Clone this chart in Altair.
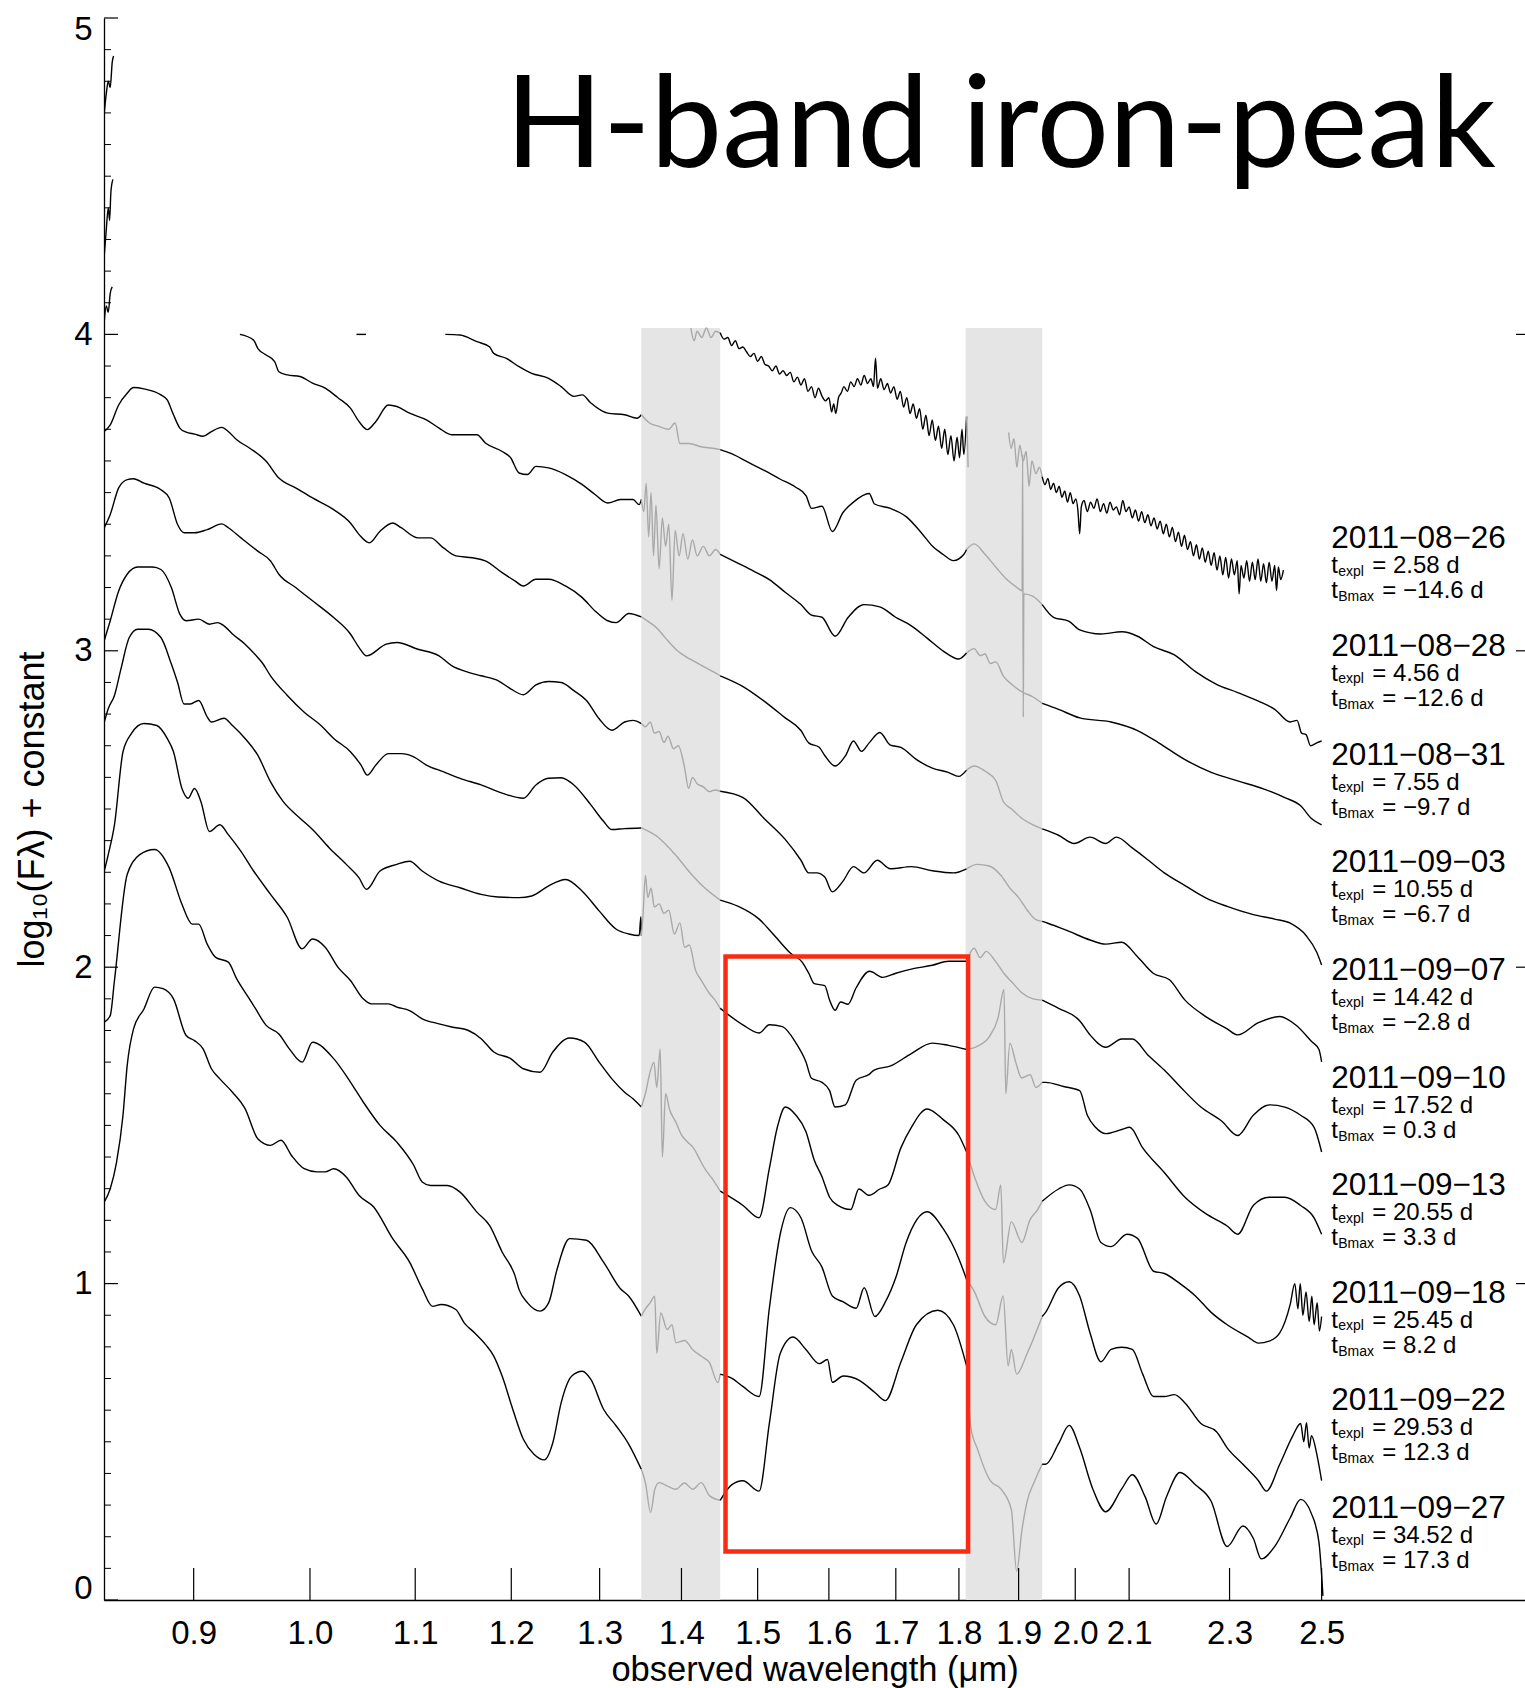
import altair as alt
import pandas as pd

# ---------------- data ----------------
# each spectrum: (wavelength in micron, log10 F + constant); None = gap / clipped
S1 = [
    (0.8300, 4.04), (0.8315, 4.09), (0.8330, 4.07), (0.8345, 4.13), (0.8360, 4.15), None,
    (0.8300, 4.25), (0.8315, 4.33), (0.8330, 4.40), (0.8340, 4.36), (0.8350, 4.45), (0.8365, 4.49), None,
    (0.8300, 4.70), (0.8315, 4.76), (0.8330, 4.80), (0.8345, 4.78), (0.8360, 4.86), (0.8370, 4.88), None,
    (1.412, 4.02), (1.416, 3.98), (1.420, 4.01), (1.426, 3.99), (1.432, 4.02), (1.438, 3.99), (1.444, 4.01),
    (1.450, 4.005), (1.455, 3.985), (1.460, 3.99), (1.465, 3.965), (1.470, 3.98), (1.475, 3.955), (1.480, 3.96),
    (1.485, 3.945), (1.490, 3.93), (1.495, 3.94), (1.500, 3.915), (1.505, 3.93), (1.510, 3.905), (1.515, 3.90),
    (1.520, 3.885), (1.525, 3.90), (1.530, 3.875), (1.535, 3.885), (1.540, 3.87), (1.545, 3.88), (1.550, 3.85),
    (1.555, 3.865), (1.560, 3.84), (1.565, 3.86), (1.570, 3.82), (1.575, 3.835), (1.580, 3.80), (1.585, 3.83),
    (1.590, 3.805), (1.595, 3.79), (1.600, 3.80), (1.604, 3.755), (1.607, 3.78), (1.610, 3.75), (1.614, 3.80),
    (1.618, 3.815), (1.622, 3.835), (1.627, 3.82), (1.632, 3.85), (1.637, 3.835), (1.642, 3.86), (1.647, 3.84),
    (1.652, 3.87), (1.657, 3.845), (1.662, 3.86), (1.666, 3.835), (1.669, 3.925), (1.672, 3.83), (1.677, 3.86),
    (1.682, 3.825), (1.687, 3.845), (1.692, 3.815), (1.697, 3.835), (1.702, 3.795), (1.707, 3.82), (1.712, 3.77),
    (1.717, 3.80), (1.722, 3.75), (1.727, 3.78), (1.732, 3.735), (1.737, 3.765), (1.742, 3.70), (1.747, 3.745),
    (1.752, 3.68), (1.757, 3.73), (1.762, 3.665), (1.767, 3.71), (1.772, 3.64), (1.777, 3.70), (1.782, 3.62),
    (1.787, 3.68), (1.792, 3.60), (1.797, 3.675), (1.801, 3.61), (1.805, 3.70), (1.808, 3.62), (1.8125, 3.74),
    (1.8135, 3.70), (1.815, 3.58), None,
    (1.883, 3.69), (1.887, 3.64), (1.892, 3.67), (1.897, 3.58), (1.902, 3.65), (1.908, 3.60), (1.913, 3.63),
    (1.918, 3.52), (1.923, 3.60), (1.930, 3.56), (1.936, 3.58), (1.941, 3.55),
    (1.946, 3.525), (1.951, 3.545), (1.956, 3.51), (1.961, 3.53), (1.966, 3.50), (1.971, 3.52), (1.976, 3.485),
    (1.981, 3.505), (1.986, 3.47), (1.991, 3.50), (1.996, 3.465), (2.001, 3.48), (2.005, 3.44), (2.008, 3.37),
    (2.011, 3.455), (2.016, 3.475), (2.022, 3.44), (2.028, 3.47), (2.034, 3.45), (2.040, 3.48), (2.046, 3.44),
    (2.052, 3.465), (2.058, 3.435), (2.064, 3.47), (2.070, 3.445), (2.076, 3.455), (2.082, 3.43), (2.088, 3.475),
    (2.094, 3.44), (2.100, 3.455), (2.106, 3.42), (2.112, 3.445), (2.118, 3.41), (2.124, 3.44), (2.130, 3.405),
    (2.136, 3.43), (2.142, 3.395), (2.148, 3.42), (2.154, 3.385), (2.160, 3.41), (2.166, 3.37), (2.172, 3.40),
    (2.178, 3.36), (2.184, 3.39), (2.190, 3.345), (2.196, 3.375), (2.202, 3.33), (2.208, 3.365), (2.214, 3.32),
    (2.220, 3.345), (2.226, 3.30), (2.232, 3.335), (2.238, 3.29), (2.244, 3.325), (2.250, 3.28), (2.256, 3.315),
    (2.262, 3.27), (2.268, 3.31), (2.274, 3.255), (2.280, 3.30), (2.286, 3.24), (2.292, 3.295), (2.298, 3.23),
    (2.304, 3.29), (2.310, 3.24), (2.316, 3.285), (2.320, 3.18), (2.324, 3.27), (2.330, 3.23), (2.336, 3.285),
    (2.342, 3.22), (2.348, 3.28), (2.354, 3.225), (2.360, 3.29), (2.366, 3.22), (2.372, 3.275), (2.378, 3.215),
    (2.384, 3.28), (2.390, 3.22), (2.396, 3.27), (2.400, 3.19), (2.404, 3.265), (2.409, 3.225), (2.415, 3.255),
]

S2 = [
    (1.043, 4.0), (1.052, 4.0), None,
    (1.1304, 4.0), (1.1456, 3.998), (1.1632, 3.977), (1.1766, 3.961), (1.1811, 3.94), (1.1947, 3.924),
    (1.2085, 3.898), (1.2224, 3.877), (1.2413, 3.861), (1.2555, 3.835), (1.2700, 3.804), (1.2797, 3.809),
    (1.2897, 3.783), (1.3095, 3.751), (1.3297, 3.746), (1.3449, 3.735), (1.35, 3.746),
    (1.360, 3.72), (1.371, 3.71), (1.384, 3.70), (1.392, 3.72), (1.398, 3.655), (1.41, 3.655), (1.425, 3.645),
    (1.44, 3.64), (1.45, 3.636),
    (1.465, 3.623), (1.487, 3.596), (1.509, 3.57), (1.5305, 3.543), (1.5526, 3.517), (1.5674, 3.49),
    (1.575, 3.45), (1.590, 3.457), (1.605, 3.377), (1.6206, 3.437), (1.636, 3.47), (1.6595, 3.497),
    (1.6675, 3.464), (1.6916, 3.45), (1.716, 3.424), (1.7406, 3.371), (1.7572, 3.331), (1.7741, 3.305),
    (1.7911, 3.285), (1.8082, 3.305), (1.8125, 3.32),
    (1.825, 3.338), (1.843, 3.305), (1.861, 3.265), (1.88, 3.225), (1.898, 3.199), (1.906, 3.19),
    (1.907, 3.62), (1.908, 2.79), (1.909, 3.18), (1.925, 3.172), (1.941, 3.146),
    (1.961, 3.106), (1.989, 3.093), (2.008, 3.066), (2.047, 3.053), (2.086, 3.06), (2.116, 3.046),
    (2.147, 3.013), (2.188, 2.987), (2.230, 2.934), (2.273, 2.894), (2.317, 2.868), (2.361, 2.841),
    (2.396, 2.815), (2.430, 2.775), (2.445, 2.78), (2.455, 2.74), (2.465, 2.735), (2.475, 2.70),
    (2.489, 2.709), (2.50, 2.715),
]

S3 = [
    (0.9385, 4.0), (0.9502, 3.982), (0.9538, 3.956), (0.9611, 3.935), (0.9685, 3.914), (0.9722, 3.882),
    (0.9797, 3.872), (0.9910, 3.867), (1.0023, 3.846), (1.0139, 3.83), (1.0256, 3.80), (1.0373, 3.767),
    (1.0453, 3.725), (1.0533, 3.699), (1.0615, 3.725), (1.0736, 3.777), (1.0819, 3.772), (1.0944, 3.751),
    (1.1112, 3.73), (1.1240, 3.704), (1.1369, 3.683), (1.150, 3.683), (1.1632, 3.683), (1.1722, 3.657),
    (1.1901, 3.63), (1.1993, 3.61), (1.2085, 3.562), (1.2178, 3.557), (1.2271, 3.583), (1.2413, 3.578),
    (1.2604, 3.557), (1.2797, 3.525), (1.2946, 3.494), (1.3095, 3.467), (1.3247, 3.478), (1.3399, 3.478),
    (1.3474, 3.462), (1.35, 3.478),
    (1.353, 3.44), (1.356, 3.53), (1.359, 3.36), (1.362, 3.50), (1.365, 3.30), (1.368, 3.46), (1.372, 3.26),
    (1.376, 3.42), (1.380, 3.33), (1.384, 3.40), (1.388, 3.16), (1.392, 3.38), (1.397, 3.30), (1.402, 3.37),
    (1.408, 3.29), (1.414, 3.35), (1.420, 3.30), (1.428, 3.33), (1.436, 3.30), (1.444, 3.32), (1.45, 3.305),
    (1.4726, 3.278), (1.4945, 3.252), (1.516, 3.225), (1.5379, 3.185), (1.560, 3.146), (1.575, 3.113),
    (1.590, 3.106), (1.609, 3.046), (1.6283, 3.106), (1.6516, 3.146), (1.6755, 3.139), (1.6997, 3.106),
    (1.7241, 3.079), (1.7489, 3.04), (1.7741, 3.0), (1.7996, 2.974), (1.8125, 2.993),
    (1.825, 3.007), (1.835, 2.985), (1.843, 2.99), (1.852, 2.96), (1.861, 2.965), (1.874, 2.92),
    (1.888, 2.894), (1.906, 2.87), (1.925, 2.854), (1.941, 2.834),
    (1.970, 2.815), (2.008, 2.788), (2.066, 2.775), (2.116, 2.748), (2.157, 2.709), (2.209, 2.656),
    (2.262, 2.616), (2.317, 2.589), (2.373, 2.563), (2.418, 2.536), (2.453, 2.51), (2.477, 2.47), (2.50, 2.45),
]

S4 = [
    (0.830, 3.693), (0.8345, 3.714), (0.8409, 3.777), (0.8474, 3.814), (0.8523, 3.832), (0.8604, 3.828),
    (0.8737, 3.809), (0.8787, 3.793), (0.8837, 3.746), (0.8888, 3.704), (0.8939, 3.691), (0.9007, 3.685),
    (0.9077, 3.678), (0.9146, 3.693), (0.9233, 3.706), (0.9287, 3.693), (0.9358, 3.667), (0.9466, 3.641),
    (0.9611, 3.599), (0.9722, 3.546), (0.9871, 3.515), (1.0023, 3.483), (1.0217, 3.446), (1.0373, 3.404),
    (1.0453, 3.368), (1.0553, 3.341), (1.0655, 3.378), (1.0778, 3.404), (1.0861, 3.389), (1.1027, 3.357),
    (1.1154, 3.357), (1.1282, 3.326), (1.1412, 3.30), (1.1587, 3.294), (1.1722, 3.284), (1.1901, 3.247),
    (1.2039, 3.221), (1.2132, 3.205), (1.2271, 3.226), (1.2413, 3.226), (1.2604, 3.205), (1.2797, 3.168),
    (1.2946, 3.126), (1.3095, 3.095), (1.3197, 3.089), (1.3348, 3.118), (1.35, 3.107),
    (1.36, 3.09), (1.37, 3.07), (1.38, 3.04), (1.395, 3.0), (1.41, 2.975), (1.425, 2.955), (1.44, 2.935),
    (1.45, 2.921),
    (1.4803, 2.887), (1.5088, 2.841), (1.5379, 2.788), (1.560, 2.748), (1.571, 2.709), (1.586, 2.695),
    (1.594, 2.669), (1.609, 2.636), (1.6244, 2.669), (1.636, 2.715), (1.648, 2.682), (1.6595, 2.709),
    (1.6755, 2.742), (1.6916, 2.702), (1.7078, 2.695), (1.7323, 2.656), (1.7572, 2.629), (1.7826, 2.616),
    (1.7996, 2.603), (1.8125, 2.623),
    (1.825, 2.636), (1.843, 2.62), (1.861, 2.59), (1.874, 2.523), (1.888, 2.50), (1.906, 2.47),
    (1.925, 2.45), (1.941, 2.437),
    (1.970, 2.417), (1.998, 2.391), (2.027, 2.411), (2.056, 2.391), (2.076, 2.411), (2.106, 2.377),
    (2.137, 2.338), (2.168, 2.298), (2.209, 2.258), (2.251, 2.219), (2.295, 2.192), (2.350, 2.166),
    (2.396, 2.152), (2.430, 2.139), (2.465, 2.10), (2.489, 2.047), (2.50, 2.007),
]

S5 = [
    (0.830, 3.389), (0.8345, 3.431), (0.8409, 3.515), (0.8474, 3.541), (0.8523, 3.544), (0.8604, 3.53),
    (0.8737, 3.509), (0.8803, 3.483), (0.8870, 3.399), (0.8922, 3.373), (0.9007, 3.373), (0.9111, 3.383),
    (0.9233, 3.401), (0.9287, 3.389), (0.9394, 3.357), (0.9538, 3.315), (0.9649, 3.284), (0.9722, 3.242),
    (0.9871, 3.20), (1.0023, 3.158), (1.0217, 3.105), (1.0373, 3.053), (1.0453, 3.011), (1.0525, 2.984),
    (1.0715, 3.021), (1.0819, 3.026), (1.1027, 3.005), (1.1240, 2.984), (1.1369, 2.953), (1.1543, 2.932),
    (1.1677, 2.921), (1.1856, 2.906), (1.1993, 2.88), (1.2132, 2.861), (1.2271, 2.892), (1.2413, 2.903),
    (1.2555, 2.90), (1.2700, 2.874), (1.2846, 2.843), (1.2994, 2.785), (1.3145, 2.749), (1.3297, 2.775),
    (1.3399, 2.78), (1.35, 2.77),
    (1.355, 2.76), (1.361, 2.775), (1.366, 2.74), (1.372, 2.745), (1.378, 2.71), (1.383, 2.73), (1.390, 2.69),
    (1.396, 2.70), (1.404, 2.63), (1.409, 2.565), (1.414, 2.60), (1.42, 2.58), (1.428, 2.57), (1.436, 2.555),
    (1.443, 2.56), (1.45, 2.556),
    (1.4803, 2.536), (1.5088, 2.47), (1.5379, 2.404), (1.560, 2.338), (1.571, 2.298), (1.5824, 2.298),
    (1.594, 2.285), (1.605, 2.238), (1.6206, 2.272), (1.636, 2.318), (1.6516, 2.298), (1.6715, 2.338),
    (1.6916, 2.311), (1.7241, 2.318), (1.7572, 2.305), (1.7911, 2.298), (1.8125, 2.311),
    (1.83, 2.325), (1.85, 2.32), (1.87, 2.29), (1.885, 2.25), (1.90, 2.22), (1.915, 2.18), (1.93, 2.15),
    (1.941, 2.145),
    (1.951, 2.139), (1.989, 2.113), (2.027, 2.086), (2.056, 2.073), (2.086, 2.079), (2.116, 2.033),
    (2.147, 1.98), (2.1775, 1.961), (2.209, 1.896), (2.251, 1.844), (2.295, 1.805), (2.317, 1.786),
    (2.361, 1.825), (2.407, 1.844), (2.4415, 1.818), (2.477, 1.766), (2.494, 1.74), (2.50, 1.701),
]

S6 = [
    (0.830, 3.032), (0.8345, 3.095), (0.8409, 3.189), (0.8474, 3.242), (0.8555, 3.265), (0.8670, 3.265),
    (0.8737, 3.257), (0.8820, 3.20), (0.8888, 3.116), (0.8939, 3.095), (0.9041, 3.10), (0.9129, 3.084),
    (0.9198, 3.089), (0.9251, 3.079), (0.9322, 3.053), (0.9429, 3.021), (0.9538, 2.979), (0.9575, 2.963),
    (0.9649, 2.921), (0.9797, 2.859), (0.9948, 2.806), (1.0100, 2.764), (1.0217, 2.723), (1.0373, 2.681),
    (1.0473, 2.639), (1.0533, 2.607), (1.0615, 2.639), (1.0736, 2.675), (1.0861, 2.675), (1.0985, 2.665),
    (1.1112, 2.639), (1.1282, 2.618), (1.1456, 2.597), (1.1677, 2.576), (1.1901, 2.55), (1.2132, 2.534),
    (1.2271, 2.576), (1.2413, 2.597), (1.2555, 2.599), (1.2700, 2.576), (1.2897, 2.513), (1.3046, 2.461),
    (1.3145, 2.435), (1.3297, 2.438), (1.35, 2.44),
    (1.371, 2.41), (1.392, 2.356), (1.413, 2.293), (1.43, 2.25), (1.45, 2.212),
    (1.474, 2.192), (1.502, 2.152), (1.523, 2.10), (1.545, 2.045), (1.562, 2.015), (1.571, 1.981),
    (1.579, 1.948), (1.594, 1.942), (1.601, 1.896), (1.609, 1.864), (1.617, 1.89), (1.628, 1.883),
    (1.640, 1.935), (1.660, 1.987), (1.680, 1.968), (1.700, 1.981), (1.724, 1.994), (1.757, 2.006),
    (1.783, 2.019), (1.8125, 2.019),
    (1.825, 2.06), (1.835, 2.03), (1.845, 2.05), (1.86, 2.02), (1.875, 1.98), (1.89, 1.95), (1.905, 1.92),
    (1.925, 1.90), (1.941, 1.896),
    (1.970, 1.87), (2.008, 1.831), (2.027, 1.786), (2.056, 1.747), (2.086, 1.773), (2.106, 1.773),
    (2.137, 1.721), (2.168, 1.675), (2.199, 1.623), (2.241, 1.558), (2.284, 1.513), (2.317, 1.468),
    (2.350, 1.532), (2.384, 1.565), (2.418, 1.558), (2.453, 1.532), (2.483, 1.494), (2.50, 1.416),
]

S7 = [
    (0.830, 2.775), (0.8330, 2.817), (0.8377, 2.859), (0.8426, 2.942), (0.8490, 3.042), (0.8555, 3.068),
    (0.8637, 3.068), (0.8737, 3.042), (0.8820, 2.958), (0.8870, 2.90), (0.8922, 2.832), (0.8973, 2.832),
    (0.9041, 2.843), (0.9111, 2.791), (0.9146, 2.775), (0.9251, 2.787), (0.9322, 2.764), (0.9429, 2.723),
    (0.9538, 2.67), (0.9649, 2.586), (0.9759, 2.524), (0.9910, 2.471), (1.0023, 2.435), (1.0177, 2.377),
    (1.0334, 2.325), (1.0453, 2.283), (1.0525, 2.246), (1.0655, 2.304), (1.0819, 2.325), (1.0944, 2.335),
    (1.1070, 2.304), (1.1240, 2.272), (1.1456, 2.251), (1.1677, 2.23), (1.1856, 2.222), (1.2085, 2.22),
    (1.2224, 2.225), (1.2413, 2.257), (1.2604, 2.277), (1.2797, 2.24), (1.2994, 2.178), (1.3197, 2.12),
    (1.3348, 2.105), (1.3474, 2.10), (1.3495, 2.16), (1.35, 2.10),
    (1.352, 2.16), (1.355, 2.29), (1.358, 2.22), (1.362, 2.25), (1.366, 2.19), (1.372, 2.20), (1.378, 2.17),
    (1.384, 2.18), (1.391, 2.105), (1.398, 2.14), (1.404, 2.063), (1.41, 2.07), (1.418, 1.99), (1.425, 1.96),
    (1.435, 1.92), (1.442, 1.90), (1.45, 1.87),
    (1.480, 1.818), (1.502, 1.792), (1.516, 1.818), (1.534, 1.812), (1.553, 1.76), (1.567, 1.701),
    (1.575, 1.649), (1.590, 1.636), (1.601, 1.61), (1.609, 1.558), (1.624, 1.565), (1.640, 1.643),
    (1.660, 1.662), (1.667, 1.675), (1.692, 1.688), (1.724, 1.727), (1.757, 1.76), (1.783, 1.753),
    (1.8125, 1.74),
    (1.83, 1.75), (1.85, 1.78), (1.865, 1.84), (1.875, 1.93), (1.878, 1.60), (1.885, 1.76), (1.895, 1.70),
    (1.905, 1.65), (1.92, 1.66), (1.93, 1.62), (1.941, 1.636),
    (1.947, 1.636), (1.979, 1.623), (2.008, 1.61), (2.022, 1.532), (2.037, 1.494), (2.056, 1.474),
    (2.086, 1.487), (2.101, 1.494), (2.126, 1.429), (2.168, 1.351), (2.209, 1.273), (2.251, 1.221),
    (2.295, 1.182), (2.317, 1.156), (2.350, 1.247), (2.384, 1.273), (2.418, 1.273), (2.453, 1.247),
    (2.483, 1.208), (2.50, 1.156),
]

S8 = [
    (0.830, 2.304), (0.8330, 2.356), (0.8377, 2.45), (0.8442, 2.681), (0.8506, 2.738), (0.8604, 2.77),
    (0.8704, 2.764), (0.8787, 2.723), (0.8837, 2.681), (0.8905, 2.565), (0.8956, 2.534), (0.9007, 2.565),
    (0.9059, 2.524), (0.9129, 2.429), (0.9216, 2.45), (0.9287, 2.419), (0.9394, 2.366), (0.9502, 2.304),
    (0.9649, 2.23), (0.9797, 2.157), (0.9929, 2.058), (1.0023, 2.089), (1.0139, 2.063), (1.0256, 2.0),
    (1.0373, 1.958), (1.0494, 1.90), (1.0573, 1.884), (1.0736, 1.884), (1.0819, 1.874), (1.0944, 1.863),
    (1.1070, 1.837), (1.1240, 1.821), (1.1369, 1.811), (1.1543, 1.80), (1.1677, 1.774), (1.1811, 1.732),
    (1.1993, 1.711), (1.2132, 1.679), (1.2317, 1.668), (1.2460, 1.732), (1.2651, 1.776), (1.2822, 1.763),
    (1.2994, 1.70), (1.3145, 1.647), (1.3297, 1.605), (1.3399, 1.584), (1.35, 1.558),
    (1.355, 1.60), (1.360, 1.66), (1.3655, 1.70), (1.369, 1.62), (1.3733, 1.742), (1.376, 1.40),
    (1.38, 1.60), (1.385, 1.55), (1.393, 1.51), (1.40, 1.47), (1.408, 1.447), (1.415, 1.43),
    (1.425, 1.385), (1.43, 1.363), (1.44, 1.33), (1.45, 1.292),
    (1.4803, 1.247), (1.502, 1.208), (1.516, 1.364), (1.527, 1.494), (1.538, 1.558), (1.553, 1.532),
    (1.567, 1.481), (1.579, 1.39), (1.590, 1.338), (1.601, 1.273), (1.613, 1.247), (1.632, 1.234),
    (1.644, 1.299), (1.6595, 1.279), (1.6755, 1.299), (1.688, 1.312), (1.7078, 1.429), (1.7241, 1.494),
    (1.749, 1.552), (1.774, 1.519), (1.800, 1.468), (1.8125, 1.416),
    (1.8255, 1.338), (1.8429, 1.26), (1.861, 1.234), (1.8696, 1.312), (1.874, 1.065), (1.8875, 1.195),
    (1.9057, 1.13), (1.9193, 1.20), (1.933, 1.234), (1.941, 1.26),
    (1.970, 1.299), (1.989, 1.312), (2.008, 1.299), (2.027, 1.234), (2.047, 1.13), (2.066, 1.117),
    (2.096, 1.156), (2.116, 1.143), (2.147, 1.039), (2.168, 1.032), (2.199, 1.0), (2.230, 0.961),
    (2.262, 0.909), (2.295, 0.87), (2.339, 0.831), (2.361, 0.812), (2.384, 0.818), (2.407, 0.844),
    (2.430, 0.935), (2.44, 1.0), (2.447, 0.92), (2.452, 1.00), (2.458, 0.90), (2.465, 0.974),
    (2.472, 0.88), (2.478, 0.96), (2.483, 0.87), (2.49, 0.94), (2.495, 0.85), (2.50, 0.896),
]

S9 = [
    (0.830, 1.826), (0.8345, 1.847), (0.8377, 1.958), (0.8474, 2.293), (0.8571, 2.356), (0.8687, 2.372),
    (0.8803, 2.314), (0.8905, 2.199), (0.8990, 2.136), (0.9041, 2.136), (0.9111, 2.073), (0.9181, 2.031),
    (0.9287, 2.016), (0.9358, 1.963), (0.9466, 1.90), (0.9520, 1.868), (0.9611, 1.816), (0.9722, 1.789),
    (0.9815, 1.742), (0.9929, 1.70), (1.0023, 1.763), (1.0217, 1.711), (1.0373, 1.637), (1.0494, 1.574),
    (1.0655, 1.50), (1.0819, 1.447), (1.0985, 1.374), (1.1070, 1.321), (1.1154, 1.31), (1.1325, 1.31),
    (1.1456, 1.289), (1.1632, 1.226), (1.1766, 1.184), (1.1901, 1.10), (1.2039, 1.026), (1.2085, 0.981),
    (1.2178, 0.939), (1.2317, 0.913), (1.2413, 0.939), (1.2507, 1.044), (1.2651, 1.142), (1.2846, 1.137),
    (1.3046, 1.068), (1.3247, 0.984), (1.3348, 0.96), (1.35, 0.897),
    (1.355, 0.92), (1.361, 0.94), (1.3666, 0.96), (1.369, 0.78), (1.374, 0.907), (1.382, 0.855),
    (1.388, 0.87), (1.393, 0.813), (1.404, 0.82), (1.414, 0.792), (1.425, 0.771), (1.436, 0.75),
    (1.447, 0.687), (1.45, 0.714),
    (1.465, 0.701), (1.480, 0.675), (1.502, 0.643), (1.516, 0.922), (1.531, 1.156), (1.545, 1.24),
    (1.560, 1.208), (1.575, 1.104), (1.590, 1.052), (1.605, 0.961), (1.621, 0.942), (1.640, 0.922),
    (1.652, 0.987), (1.668, 0.896), (1.684, 0.942), (1.700, 1.019), (1.716, 1.13), (1.749, 1.227),
    (1.774, 1.175), (1.800, 1.078), (1.8125, 1.013),
    (1.8255, 0.974), (1.8429, 0.896), (1.861, 0.87), (1.8736, 0.961), (1.882, 0.74), (1.8875, 0.792),
    (1.8966, 0.714), (1.9147, 0.779), (1.941, 0.896),
    (1.947, 0.909), (1.970, 0.987), (1.989, 1.006), (2.008, 0.961), (2.027, 0.844), (2.047, 0.753),
    (2.066, 0.792), (2.086, 0.799), (2.106, 0.792), (2.126, 0.714), (2.147, 0.643), (2.168, 0.643),
    (2.188, 0.649), (2.209, 0.623), (2.241, 0.558), (2.273, 0.532), (2.295, 0.481), (2.328, 0.429),
    (2.361, 0.377), (2.378, 0.344), (2.407, 0.429), (2.4355, 0.519), (2.453, 0.558), (2.46, 0.50),
    (2.466, 0.56), (2.472, 0.48), (2.477, 0.519), (2.49, 0.455), (2.50, 0.377),
]

S10 = [
    (0.830, 1.258), (0.8345, 1.30), (0.8393, 1.384), (0.8442, 1.532), (0.8474, 1.689), (0.8523, 1.805),
    (0.8604, 1.868), (0.8687, 1.937), (0.8753, 1.932), (0.8837, 1.90), (0.8939, 1.784), (0.9007, 1.768),
    (0.9077, 1.742), (0.9146, 1.679), (0.9216, 1.647), (0.9322, 1.605), (0.9429, 1.553), (0.9538, 1.458),
    (0.9649, 1.437), (0.9741, 1.453), (0.9834, 1.405), (0.9948, 1.363), (1.0062, 1.353), (1.0139, 1.353),
    (1.0217, 1.363), (1.0334, 1.337), (1.0453, 1.279), (1.0594, 1.242), (1.0778, 1.142), (1.0944, 1.068),
    (1.1070, 0.984), (1.1175, 0.928), (1.1261, 0.934), (1.1412, 0.918), (1.1499, 0.876), (1.1609, 0.844),
    (1.1722, 0.808), (1.1811, 0.771), (1.1901, 0.708), (1.2016, 0.603), (1.2132, 0.508), (1.2249, 0.461),
    (1.2365, 0.443), (1.2460, 0.497), (1.2555, 0.624), (1.2676, 0.708), (1.2797, 0.723), (1.2897, 0.697),
    (1.3046, 0.603), (1.3197, 0.55), (1.3348, 0.492), (1.35, 0.413),
    (1.355, 0.371), (1.3614, 0.277), (1.3666, 0.35), (1.3719, 0.371), (1.3824, 0.36), (1.393, 0.35),
    (1.4037, 0.37), (1.4145, 0.35), (1.4253, 0.371), (1.4362, 0.329), (1.45, 0.315),
    (1.465, 0.364), (1.480, 0.377), (1.502, 0.344), (1.516, 0.558), (1.531, 0.779), (1.549, 0.831),
    (1.567, 0.792), (1.586, 0.747), (1.598, 0.76), (1.605, 0.688), (1.621, 0.708), (1.644, 0.695),
    (1.668, 0.656), (1.684, 0.63), (1.708, 0.753), (1.732, 0.87), (1.766, 0.916), (1.791, 0.87),
    (1.8125, 0.74),
    (1.8196, 0.545), (1.8299, 0.48), (1.8519, 0.377), (1.8696, 0.351), (1.8875, 0.286), (1.8966, 0.091),
    (1.9057, 0.221), (1.9147, 0.312), (1.928, 0.377), (1.941, 0.429),
    (1.947, 0.429), (1.970, 0.494), (1.989, 0.552), (2.008, 0.481), (2.032, 0.351), (2.056, 0.279),
    (2.086, 0.351), (2.106, 0.396), (2.131, 0.325), (2.152, 0.24), (2.172, 0.325), (2.199, 0.403),
    (2.230, 0.364), (2.262, 0.312), (2.295, 0.169), (2.328, 0.234), (2.350, 0.195), (2.367, 0.13),
    (2.396, 0.169), (2.430, 0.26), (2.453, 0.318), (2.477, 0.273), (2.494, 0.182), (2.503, 0.013),
]

SPECTRA = [S1, S2, S3, S4, S5, S6, S7, S8, S9, S10]

DATES = ["2011\u221208\u221226", "2011\u221208\u221228", "2011\u221208\u221231", "2011\u221209\u221203",
         "2011\u221209\u221207", "2011\u221209\u221210", "2011\u221209\u221213", "2011\u221209\u221218",
         "2011\u221209\u221222", "2011\u221209\u221227"]
T_EXPL = ["2.58", "4.56", "7.55", "10.55", "14.42", "17.52", "20.55", "25.45", "29.53", "34.52"]
T_BMAX = ["\u221214.6", "\u221212.6", "\u22129.7", "\u22126.7", "\u22122.8", "0.3", "3.3", "8.2", "12.3", "17.3"]
LABEL_Y = [3.353, 3.013, 2.669, 2.329, 1.989, 1.648, 1.308, 0.968, 0.628, 0.288]
LABEL_X = 2.522

X_DOMAIN = [0.8298, 3.0057]
Y_DOMAIN = [0, 5]
X_TICKS = [0.9, 1.0, 1.1, 1.2, 1.3, 1.4, 1.5, 1.6, 1.7, 1.8, 1.9, 2.0, 2.1, 2.3, 2.5]
Y_MAJOR = [0, 1, 2, 3, 4, 5]
Y_MINOR = [i / 10 for i in range(51) if i % 10]
RIGHT_TICKS = [1, 2, 3, 4]
BAND_START = [1.35, 1.811]
BAND_END = [1.45, 1.941]
BAND_TOP = 4.02
BOX_X = [1.457, 1.815]
BOX_Y = [0.153, 2.034]

TITLE = "H-band iron-peak"

# ---------------- build tables ----------------
W, H = 1421, 1582
FONT = "Liberation Sans"


def is_gray(w):
    return (1.35 <= w <= 1.45) or (1.811 <= w <= 1.942)


rows = []
seg_id = [0]


def emit(pts, gray, spec):
    seg_id[0] += 1
    for k, (w, v) in enumerate(pts):
        rows.append({"w": w, "v": v, "seg": seg_id[0], "o": k,
                     "kind": "gray" if gray else "black", "spec": spec})


for si, spec in enumerate(SPECTRA):
    runs, cur = [], []
    for p in spec:
        if p is None:
            if cur:
                runs.append(cur)
            cur = []
        else:
            cur.append(p)
    if cur:
        runs.append(cur)
    for run in runs:
        if len(run) < 2:
            continue
        col = is_gray((run[0][0] + run[1][0]) / 2)
        pts = [run[0]]
        for a, b in zip(run[:-1], run[1:]):
            c = is_gray((a[0] + b[0]) / 2)
            if c != col:
                emit(pts, col, si)
                pts = [a]
                col = c
            pts.append(b)
        emit(pts, col, si)

spec_df = pd.DataFrame(rows)

xs = alt.Scale(type="log", domain=X_DOMAIN, nice=False, zero=False)
ys = alt.Scale(domain=Y_DOMAIN, nice=False, zero=False)

x_axis = alt.Axis(values=X_TICKS, format=".1f", ticks=False, tickSize=0, grid=False,
                  domainColor="black", domainWidth=1.3, labelFont=FONT, labelFontSize=33,
                  labelColor="black", labelPadding=17, labelOverlap=False, labelFlush=False,
                  title="observed wavelength (\u03bcm)", titleFont=FONT, titleFontSize=34.5,
                  titleFontWeight="normal", titleColor="black", titlePadding=3)
y_axis = alt.Axis(values=Y_MAJOR, format="d", ticks=False, tickSize=0, grid=False,
                  domainColor="black", domainWidth=1.3, labelFont=FONT, labelFontSize=33,
                  labelColor="black", labelPadding=12, labelFlush=True, labelFlushOffset=5,
                  title="log\u2081\u2080(F\u03bb) + constant", titleFont=FONT, titleFontSize=36,
                  titleFontWeight="normal", titleColor="black", titlePadding=22)


def X(field):
    return alt.X(field, scale=xs, axis=x_axis)


def Y(field):
    return alt.Y(field, scale=ys, axis=y_axis)


bands_df = pd.DataFrame({"x0": BAND_START, "x1": BAND_END, "y0": [0, 0], "y1": [BAND_TOP, BAND_TOP]})
bands = alt.Chart(bands_df).mark_rect(color="#e5e5e5").encode(
    x=X("x0:Q"), x2="x1:Q", y=Y("y0:Q"), y2="y1:Q")

lines = alt.Chart(spec_df).mark_line(strokeWidth=1.4, clip=True, strokeJoin="round",
                                     interpolate="monotone").encode(
    x=X("w:Q"), y=Y("v:Q"),
    color=alt.Color("kind:N", scale=alt.Scale(domain=["black", "gray"], range=["#000000", "#a9a9a9"]),
                    legend=None),
    detail="seg:N", order="o:Q")

box_df = pd.DataFrame({"x0": [BOX_X[0]], "x1": [BOX_X[1]], "y0": [BOX_Y[0]], "y1": [BOX_Y[1]]})
box = alt.Chart(box_df).mark_rect(fillOpacity=0, stroke="#fb2a12", strokeWidth=4.5).encode(
    x=X("x0:Q"), x2="x1:Q", y=Y("y0:Q"), y2="y1:Q")

xt = alt.Chart(pd.DataFrame({"x": X_TICKS})).mark_rule(color="black", strokeWidth=1.2).encode(
    x=X("x:Q"), y=alt.value(H), y2=alt.value(H - 32))
ytm = alt.Chart(pd.DataFrame({"y": Y_MAJOR})).mark_rule(color="black", strokeWidth=1.2).encode(
    y=Y("y:Q"), x=alt.value(0), x2=alt.value(14))
ytn = alt.Chart(pd.DataFrame({"y": Y_MINOR})).mark_rule(color="black", strokeWidth=1.0).encode(
    y=Y("y:Q"), x=alt.value(0), x2=alt.value(7))
ytr = alt.Chart(pd.DataFrame({"y": RIGHT_TICKS})).mark_rule(color="black", strokeWidth=1.2).encode(
    y=Y("y:Q"), x=alt.value(W - 9), x2=alt.value(W))

lab_df = pd.DataFrame({
    "x": [LABEL_X] * len(DATES), "y": LABEL_Y, "date": DATES,
    "e": ["= " + v + " d" for v in T_EXPL], "b": ["= " + v + " d" for v in T_BMAX]})
base = alt.Chart(lab_df)
enc = dict(x=X("x:Q"), y=Y("y:Q"))
date_t = base.mark_text(align="left", baseline="middle", font=FONT, fontSize=31.5, color="black").encode(
    text="date:N", **enc)
t1 = base.mark_text(align="left", baseline="middle", font=FONT, fontSize=24, dy=27, text="t",
                    color="black").encode(**enc)
s1 = base.mark_text(align="left", baseline="middle", font=FONT, fontSize=14, dx=7, dy=32.5, text="expl",
                    color="black").encode(**enc)
e1 = base.mark_text(align="left", baseline="middle", font=FONT, fontSize=24, dx=41, dy=27,
                    color="black").encode(text="e:N", **enc)
t2 = base.mark_text(align="left", baseline="middle", font=FONT, fontSize=24, dy=52, text="t",
                    color="black").encode(**enc)
s2 = base.mark_text(align="left", baseline="middle", font=FONT, fontSize=14, dx=7, dy=58, text="Bmax",
                    color="black").encode(**enc)
e2 = base.mark_text(align="left", baseline="middle", font=FONT, fontSize=24, dx=51, dy=52,
                    color="black").encode(text="b:N", **enc)

title = alt.Chart(pd.DataFrame({"t": [TITLE]})).mark_text(
    align="right", baseline="alphabetic", font="Lato", fontSize=128, color="black").encode(
    text="t:N", x=alt.value(1392), y=alt.value(149))

chart = alt.layer(bands, lines, box, xt, ytm, ytn, ytr, date_t, t1, s1, e1, t2, s2, e2, title).properties(
    width=W, height=H,
    padding={"left": 104, "top": 18, "right": 0, "bottom": 88},
    autosize=alt.AutoSizeParams(type="none"),
    background="white",
).configure_view(stroke=None)

chart.save("out.html", embed_options={"renderer": "svg", "actions": False})
